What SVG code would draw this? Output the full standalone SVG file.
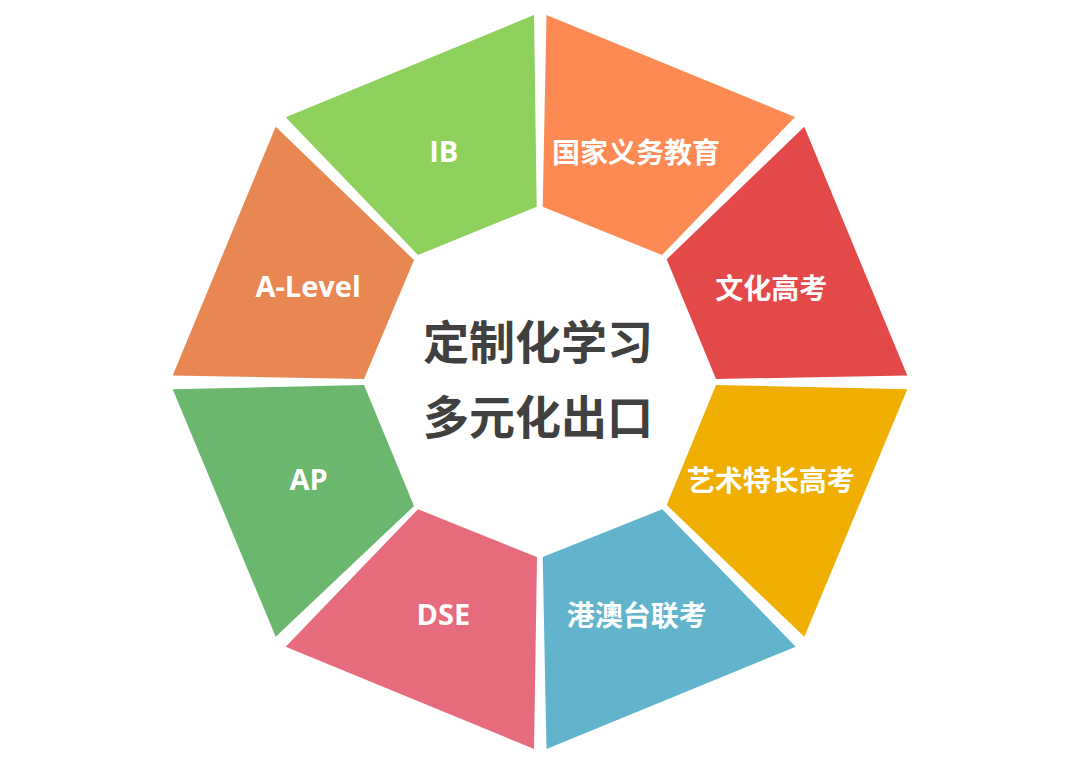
<svg xmlns="http://www.w3.org/2000/svg" width="1080" height="764" viewBox="0 0 1080 764">
<style>
.lbl{font-family:"Open Sans","Noto Sans CJK SC",sans-serif;font-weight:bold;fill:#ffffff;text-anchor:middle}
.cjk{font-family:"Noto Sans CJK SC",sans-serif;font-size:28px}
.lat{font-size:29px}
.ctr{font-family:"Noto Sans CJK SC",sans-serif;font-weight:bold;font-size:46px;fill:#404040;text-anchor:middle}
</style>
<rect x="0" y="0" width="1080" height="764" fill="#ffffff"/>
<g id="seg-ib">
<polygon points="534,15 285.7,117.3 418,255 536.7,206.7" fill="#8DD05B"/>
<text class="lbl lat" x="443.7" y="162.3">IB</text>
</g>
<g id="seg-guojia">
<polygon points="546.5,15 795,117 662,255 542.7,206.7" fill="#FD8953"/>
<text class="lbl cjk" x="636" y="163">国家义务教育</text>
</g>
<g id="seg-wenhua">
<polygon points="804.3,126.7 907.3,375.5 716,379 666.7,259.3" fill="#E4494A"/>
<text class="lbl cjk" x="771.3" y="299">文化高考</text>
</g>
<g id="seg-yishu">
<polygon points="907.3,389.3 804.3,636.7 666.7,505 716,385" fill="#F0AE00"/>
<text class="lbl cjk" x="770.8" y="491">艺术特长高考</text>
</g>
<g id="seg-gangao">
<polygon points="662.3,509.3 795.7,646.7 546.5,749 542.7,557" fill="#62B4CC"/>
<text class="lbl cjk" x="636.7" y="625.6">港澳台联考</text>
</g>
<g id="seg-dse">
<polygon points="418,509.3 537,557 534,749 285.7,646.7" fill="#E66B7D"/>
<text class="lbl lat" x="443.3" y="625">DSE</text>
</g>
<g id="seg-ap">
<polygon points="172.7,389.3 364,385 414,506 275.7,636.7" fill="#6AB76D"/>
<text class="lbl lat" x="308.5" y="490">AP</text>
</g>
<g id="seg-alevel">
<polygon points="275.7,126.7 414,260 364,379 172.7,375.5" fill="#E88752"/>
<text class="lbl lat" x="308.2" y="297.3">A-Level</text>
</g>
<g id="center">
<text class="ctr" x="538" y="359">定制化学习</text>
<text class="ctr" x="538" y="433.5">多元化出口</text>
</g>
<g id="connectors"/>
</svg>
